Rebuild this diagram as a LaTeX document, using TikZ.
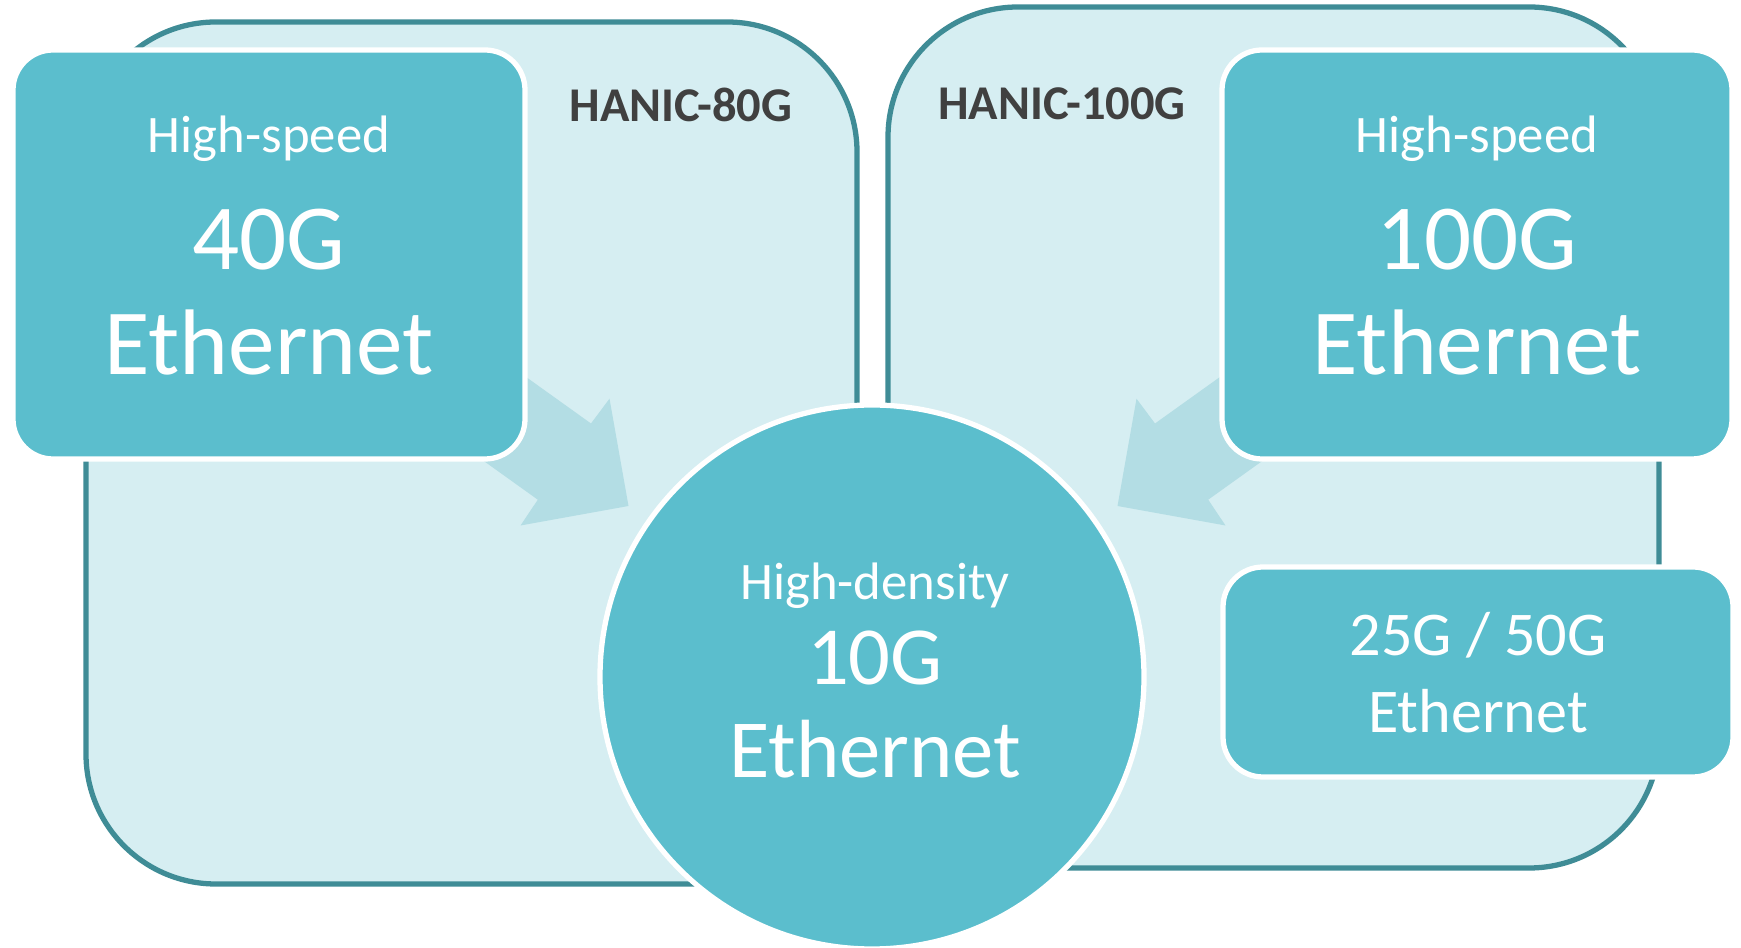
\documentclass[tikz,border=0pt]{standalone}
\usepackage{fontspec}
\setmainfont{Carlito}
\usepackage{xcolor}
\usepackage{tikz}
\definecolor{frameline}{HTML}{3F8C96}
\definecolor{framefill}{HTML}{D6EEF2}
\definecolor{boxfill}{HTML}{5BBECD}
\definecolor{flowfill}{HTML}{B3DDE4}
\definecolor{titlegray}{HTML}{404040}

\begin{document}
\begin{tikzpicture}[
    frame/.style={draw=frameline,fill=framefill,line width=1.5pt,
        rounded corners=1.3cm},
    speed/.style={draw=white,fill=boxfill,line width=1.5pt,
        rounded corners=0.4cm,inner sep=0pt},
    flow/.style={fill=flowfill},
    hanic/.style={font=\fontsize{13.8}{16}\selectfont\bfseries,
        text=titlegray,anchor=base},
    smalltxt/.style={font=\fontsize{15}{18}\selectfont,text=white,anchor=base},
    midtxt/.style={font=\fontsize{17.7}{21}\selectfont,text=white,anchor=base},
    bigtxt/.style={font=\fontsize{26.5}{30}\selectfont,text=white,anchor=base},
    hubtxt/.style={font=\fontsize{23.5}{27}\selectfont,text=white,anchor=base},
    ]
    \useasboundingbox (0,0) rectangle (17.41,9.47);
    % Adapter frames
    \draw[frame] (0.86,0.63) rectangle (8.57,9.25);
    \draw[frame] (8.88,0.79) rectangle (16.59,9.40);
    \node[hanic] (nic80) at (6.81,8.25) {HANIC-80G};
    \node[hanic] (nic100) at (10.62,8.27) {HANIC-100G};

    % Block arrows, tails hidden under the speed boxes
    \fill[flow] (4.695,6.105) -- (5.91,5.235) -- (6.095,5.483) -- (6.285,4.41)
        -- (5.205,4.215) -- (5.378,4.473) -- (4.163,5.343) -- cycle;
    \fill[flow] (12.765,6.105) -- (11.55,5.235) -- (11.365,5.483) -- (11.175,4.41)
        -- (12.255,4.215) -- (12.082,4.473) -- (13.297,5.343) -- cycle;

    % Speed boxes
    \node[speed,minimum width=5.12cm,minimum height=4.09cm] (box40) at (2.69,6.925) {};
    \node[speed,minimum width=5.10cm,minimum height=4.09cm] (box100) at (14.77,6.925) {};
    \node[speed,minimum width=5.10cm,minimum height=2.10cm] (box25) at (14.78,2.75) {};
    % Hub circle
    \node[speed,circle,minimum size=5.44cm] (hub) at (8.72,2.70) {};

    % Texts
    \node[smalltxt] (speed40) at (2.69,7.94) {High-speed};
    \node[bigtxt] (rate40) at (2.69,6.77) {40G};
    \node[bigtxt] (eth40) at (2.69,5.72) {Ethernet};
    \node[smalltxt] (speed100) at (14.77,7.94) {High-speed};
    \node[bigtxt] (rate100) at (14.77,6.77) {100G};
    \node[bigtxt] (eth100) at (14.77,5.72) {Ethernet};
    \node[midtxt] (rate25) at (14.78,2.913) {25G / 50G};
    \node[midtxt] (eth25) at (14.78,2.147) {Ethernet};
    \node[smalltxt] (density) at (8.75,3.476) {High-density};
    \node[hubtxt] (rate10) at (8.75,2.627) {10G};
    \node[hubtxt] (eth10) at (8.75,1.694) {Ethernet};
\end{tikzpicture}
\end{document}
